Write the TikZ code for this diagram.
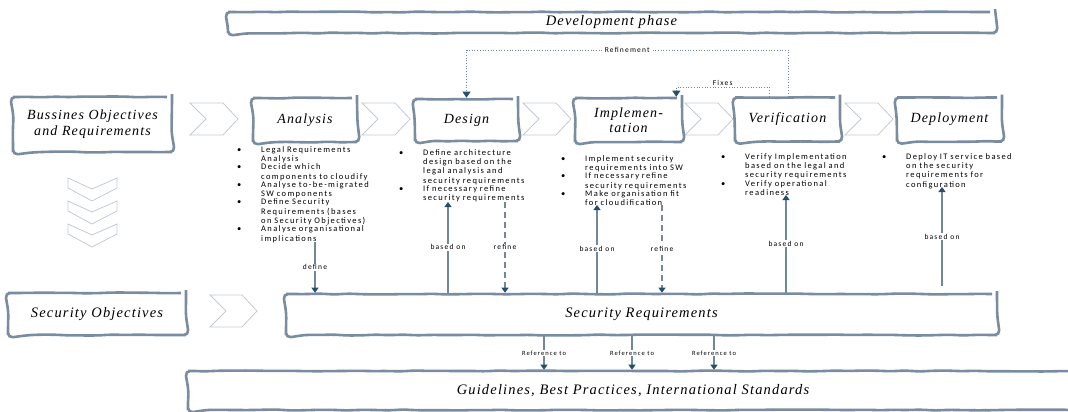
\documentclass[tikz,border=0pt]{standalone}
\usepackage{fontspec}
\setmainfont{Liberation Serif}
\newfontfamily\phasefont[LetterSpace=8]{Liberation Serif}
\newfontfamily\notefont[LetterSpace=16]{Carlito}
\usetikzlibrary{arrows.meta,positioning,calc,decorations.pathmorphing}
\definecolor{boxgray}{RGB}{122,140,160}
\definecolor{linegray}{RGB}{112,136,154}
\definecolor{tipblue}{RGB}{38,78,108}
\definecolor{chevgray}{RGB}{196,203,212}
\newcommand{\bitem}[1]{\par\noindent\makebox[24pt][l]{\textbullet}\parbox[t]{120pt}{\raggedright #1}}

\begin{document}
\begin{tikzpicture}[x=1pt, y=-1pt,
    phase/.style={draw=boxgray, line width=2.6pt, fill=white, rounded corners=5pt,
        decoration={random steps, segment length=14pt, amplitude=0.5pt}, decorate,
        align=center, inner sep=0pt, font=\phasefont\itshape\fontsize{14.5}{15.5}\selectfont},
    stage/.style={phase, minimum width=105pt, minimum height=44pt, font=\phasefont\itshape\fontsize{14}{15}\selectfont},
    note/.style={anchor=north west, inner sep=0pt, text width=#1, align=left,
        font=\notefont\fontsize{8.5}{9.25}\selectfont},
    chev/.style={draw=chevgray, line width=0.8pt, fill=white},
    link/.style={draw=linegray, line width=1.1pt, -{Triangle[length=5pt, width=7pt, color=tipblue]}},
    fb/.style={draw=linegray, line width=0.7pt, dotted, -{Triangle[length=6pt, width=8pt, color=tipblue]}},
    lab/.style={fill=white, inner sep=1pt, font=\notefont\fontsize{7.5}{8}\selectfont}]
    \pgfmathsetseed{11}
    \useasboundingbox (0,0) rectangle (1068,412);

    % Frame on top
    \node[phase, minimum width=767pt, minimum height=21pt] (dev) at (611.5,22.5) {Development phase};

    % Chevrons
    \foreach \cx in {190,362,523,685,845}
        \draw[chev] (\cx,103) -- ++(33,0) -- ++(15,16) -- ++(-15,16) -- ++(-33,0) -- ++(16,-16) -- cycle;
    \draw[chev] (210,295) -- ++(32,0) -- ++(15,16) -- ++(-15,16) -- ++(-32,0) -- ++(16,-16) -- cycle;
    \foreach \cy in {178,201,224}
        \draw[chev] (68,\cy) -- ++(24,11) -- ++(25,-11) -- ++(0,10) -- ++(-25,13) -- ++(-24,-13) -- cycle;

    % Phases
    \node[phase, minimum width=159pt, minimum height=55pt, font=\phasefont\itshape\fontsize{14}{16}\selectfont] (bus) at (92.5,124.5) {Bussines Objectives\\and Requirements};
    \node[stage, minimum width=104pt] (ana) at (305,120) {Analysis};
    \node[stage, minimum width=103pt, minimum height=42pt] (des) at (466.5,120) {Design};
    \node[stage, minimum width=107pt] (imp) at (628.5,120) {Implemen-\\tation};
    \node[stage] (ver) at (787.5,119.5) {Verification};
    \node[stage] (dep) at (949.5,119.5) {Deployment};

    % Lower boxes
    \node[phase, minimum width=178pt, minimum height=42pt] (so) at (97,314) {Security Objectives};
    \node[phase, minimum width=711pt, minimum height=41pt] (sr) at (641.5,314.5) {Security Requirements};
    \node[phase, minimum width=890pt, minimum height=39pt] (gl) at (633,390.5) {Guidelines, Best Practices, International Standards};

    % Activities
    \node[note=150pt] (ananote) at (237,143) {\bitem{Legal Requirements\\Analysis}\bitem{Decide which\\components to cloudify}\bitem{Analyse to-be-migrated\\SW components}\bitem{Define Security\\Requirements (bases\\on Security Objectives)}\bitem{Analyse organisational\\implications}};
    \node[note=150pt] (desnote) at (399,146) {\bitem{Define architecture\\design based on the\\legal analysis and\\security requirements}\bitem{If necessary refine\\security requirements}};
    \node[note=150pt] (impnote) at (561,152) {\bitem{Implement security\\requirements into SW}\bitem{If necessary refine\\security requirements}\bitem{Make organisation fit\\for cloudification}};
    \node[note=150pt] (vernote) at (721,150) {\bitem{Verify Implementation\\based on the legal and\\security requirements}\bitem{Verify operational\\readiness}};
    \node[note=150pt] (depnote) at (882,150) {\bitem{Deploy IT service based\\on the security\\requirements for\\configuration}};

    % Links to the security requirements
    \coordinate (anadef) at (315,242);
    \draw[link] (anadef) -- node[lab]{define} (anadef |- sr.north);
    \coordinate (desbase) at (448,202);
    \draw[link] (desbase |- sr.north) -- node[lab]{based on} (desbase);
    \coordinate (desref) at (505,202);
    \draw[link, dash pattern=on 6pt off 4pt] (desref) -- node[lab]{refine} (desref |- sr.north);
    \coordinate (impbase) at (597,205);
    \draw[link] (impbase |- sr.north) -- node[lab]{based on} (impbase);
    \coordinate (impref) at (662,205);
    \draw[link, dash pattern=on 6pt off 4pt] (impref) -- node[lab]{refine} (impref |- sr.north);
    \coordinate (verbase) at (786,195);
    \draw[link] (verbase |- sr.north) -- node[lab]{based on} (verbase);
    \coordinate (deptop) at (942,187);
    \coordinate (depbot) at (942,286);
    \draw[link] (depbot) -- node[lab]{based on} (deptop);

    % Feedback loops
    \coordinate (refR) at (788,50);
    \draw[fb] (refR |- ver.north) -- (refR) -| node[pos=0.25, lab]{Refinement} (des.north);
    \coordinate (fixR) at (769,87);
    \draw[fb] (fixR |- ver.north) -- (fixR) -| node[pos=0.25, above=0pt, lab, fill=none]{Fixes} ([xshift=-7pt]imp.north east);

    % References
    \foreach \rx [count=\i] in {544,632,714} {
        \coordinate (ref\i) at (\rx,0);
        \draw[link] (ref\i |- sr.south) -- node[lab, font=\notefont\fontsize{6.5}{7}\selectfont]{Reference to} (ref\i |- gl.north);
    }
\end{tikzpicture}
\end{document}
